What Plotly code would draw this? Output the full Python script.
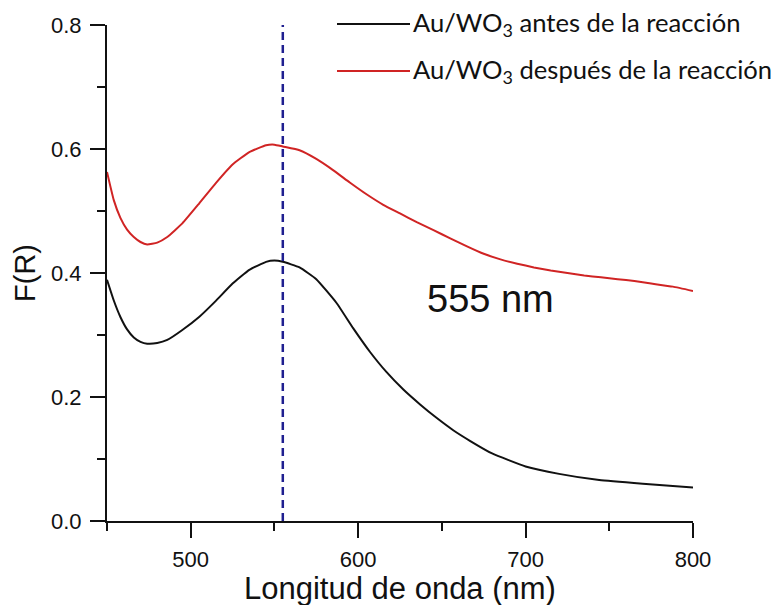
import plotly.graph_objects as go

# Wavelength (nm) and F(R)
wl_before = [450, 454, 458, 462, 466, 470, 474, 480, 486, 495, 505, 515, 525, 535, 545, 550, 555,
             565, 575, 587, 597, 607, 617, 627, 637, 647, 657, 667, 680, 700, 720, 744, 770, 800]
fr_before = [0.389, 0.356, 0.329, 0.309, 0.296, 0.289, 0.286, 0.287, 0.292, 0.308, 0.329, 0.355,
             0.383, 0.405, 0.418, 0.420, 0.418, 0.409, 0.390, 0.352, 0.311, 0.273, 0.240, 0.212,
             0.188, 0.166, 0.146, 0.129, 0.109, 0.088, 0.076, 0.066, 0.060, 0.054]

wl_after = [450, 454, 458, 462, 466, 470, 474, 480, 486, 495, 505, 515, 525, 535, 545, 550, 555,
            565, 575, 585, 595, 605, 615, 625, 635, 645, 655, 665, 675, 685, 695, 705, 715, 725,
            735, 745, 755, 765, 775, 788, 800]
fr_after = [0.563, 0.518, 0.489, 0.470, 0.458, 0.450, 0.446, 0.449, 0.458, 0.480, 0.512, 0.545,
            0.575, 0.595, 0.606, 0.607, 0.604, 0.598, 0.584, 0.566, 0.546, 0.527, 0.510, 0.496,
            0.482, 0.469, 0.456, 0.443, 0.431, 0.422, 0.415, 0.409, 0.404, 0.400, 0.396, 0.393,
            0.390, 0.387, 0.383, 0.378, 0.371]

peak_nm = 555
peak_label = "555 nm"
peak_label_pos = (679, 0.358)
series_names = ["Au/WO<sub>3</sub> antes de la reacción", "Au/WO<sub>3</sub> después de la reacción"]
series_colors = ["#111111", "#d02424"]
x_title = "Longitud de onda (nm)"
y_title = "F(R)"

fig = go.Figure()
fig.add_trace(go.Scatter(x=wl_before, y=fr_before, mode="lines", name=series_names[0],
                         line=dict(color=series_colors[0], width=2, shape="spline", smoothing=0.4),
                         showlegend=False))
fig.add_trace(go.Scatter(x=wl_after, y=fr_after, mode="lines", name=series_names[1],
                         line=dict(color=series_colors[1], width=2, shape="spline", smoothing=0.4),
                         showlegend=False))

fig.add_shape(type="line", xref="x", yref="y", x0=peak_nm, x1=peak_nm, y0=0, y1=0.8,
              line=dict(color="#1f1f90", width=2.5, dash="8px,5px"))

fig.add_annotation(x=peak_label_pos[0], y=peak_label_pos[1], xref="x", yref="y", text=peak_label,
                   showarrow=False, font=dict(family="Liberation Sans, Arial", size=38, color="#111"))

# Custom legend (long line samples); plot area spans 586 x 496 px
legend_font = dict(family="Lato, Open Sans, sans-serif", size=25.6, color="#111")
for i, (name, col) in enumerate(zip(series_names, series_colors)):
    ypix = 24 + 47 * i
    yp = 1 - (ypix - 25) / 496.0
    fig.add_shape(type="line", xref="paper", yref="paper",
                  x0=(337 - 107) / 586.0, x1=(410 - 107) / 586.0, y0=yp, y1=yp,
                  line=dict(color=col, width=2))
    fig.add_annotation(xref="paper", yref="paper", x=(411 - 107) / 586.0, y=yp,
                       xanchor="left", yanchor="middle", text=name, showarrow=False,
                       font=legend_font)

# x-axis title as an annotation for precise placement
fig.add_annotation(xref="paper", yref="paper", x=0.5, y=(521 - 588) / 496.0,
                   xanchor="center", yanchor="middle", text=x_title, showarrow=False,
                   font=dict(family="Liberation Sans, Arial", size=31, color="#111"))

axis_common = dict(showline=True, linecolor="#111", linewidth=2, ticks="outside",
                   tickcolor="#111", tickwidth=2, ticklen=15, showgrid=False, zeroline=False,
                   tickfont=dict(family="Liberation Sans, Arial", size=22, color="#111"),
                   mirror=False, automargin=False)

fig.update_xaxes(range=[450, 800], dtick=100, tick0=500, **axis_common,
                 minor=dict(dtick=50, tick0=450, ticks="outside", ticklen=8, tickwidth=2,
                            tickcolor="#111"),
                 ticklabelstandoff=3)
fig.update_yaxes(range=[0, 0.8], dtick=0.2, tick0=0, tickformat=".1f", **axis_common,
                 minor=dict(dtick=0.1, tick0=0, ticks="outside", ticklen=8, tickwidth=2,
                            tickcolor="#111"),
                 ticklabelstandoff=4,
                 title=dict(text=y_title, standoff=7,
                            font=dict(family="Liberation Sans, Arial", size=29, color="#111")))

# page body has an 8px margin: shrink the figure by 8px and shift margins accordingly
fig.update_layout(width=774, height=597, margin=dict(l=99, r=89, t=17, b=84, autoexpand=False),
                  plot_bgcolor="white", paper_bgcolor="white")

fig.write_html("out.html")
